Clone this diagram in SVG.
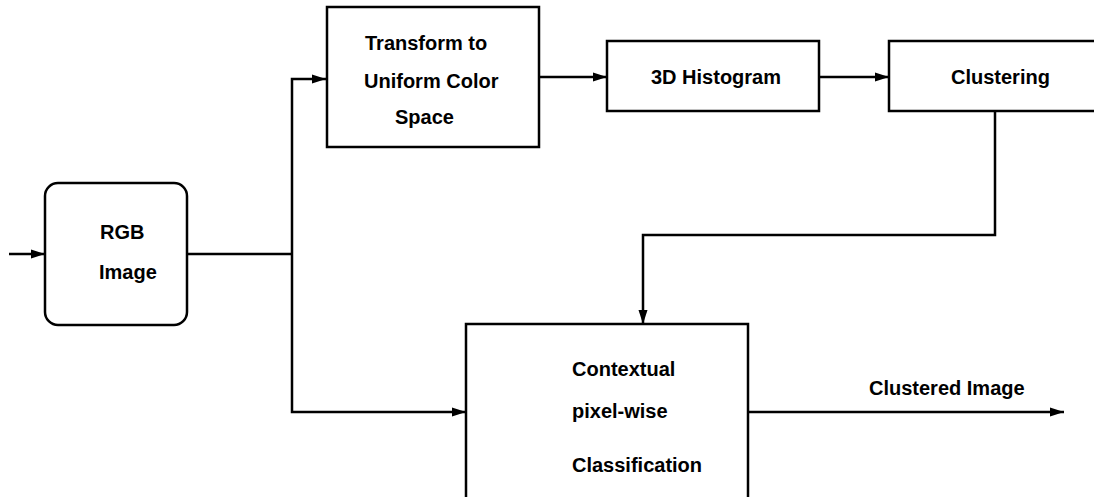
<svg xmlns="http://www.w3.org/2000/svg" width="1094" height="497" viewBox="0 0 1094 497">
<defs>
<marker id="arr" markerUnits="userSpaceOnUse" markerWidth="15" markerHeight="10" refX="14" refY="5" orient="auto">
<path d="M0,0.5 L14,5 L0,9.5 Z" fill="#000"/>
</marker>
<style>
.box{fill:#fff;stroke:#000;stroke-width:2.5}
.ln{fill:none;stroke:#000;stroke-width:2.5}
.t{font-family:"Liberation Sans",Arial,sans-serif;font-weight:bold;font-size:20px;fill:#000}
</style>
</defs>
<rect width="1094" height="497" fill="#fff"/>
<g id="connectors">
<path class="ln" d="M9,254 H45" marker-end="url(#arr)"/>
<path class="ln" d="M187,254 H292"/>
<path class="ln" d="M292,254 V79 H326" marker-end="url(#arr)"/>
<path class="ln" d="M292,254 V412 H466" marker-end="url(#arr)"/>
<path class="ln" d="M539,77 H607" marker-end="url(#arr)"/>
<path class="ln" d="M819,77 H889" marker-end="url(#arr)"/>
<path class="ln" d="M995,111 V235 H643 V324" marker-end="url(#arr)"/>
<path class="ln" d="M748,412 H1064" marker-end="url(#arr)"/>
<text class="t" x="869" y="395">Clustered Image</text>
</g>
<g id="rgb">
<rect class="box" x="45" y="183" width="142" height="142" rx="13"/>
<text class="t" x="100" y="239">RGB</text>
<text class="t" x="99" y="279">Image</text>
</g>
<g id="transform">
<rect class="box" x="327" y="7" width="212" height="140"/>
<text class="t" x="365" y="50">Transform to</text>
<text class="t" x="364" y="88">Uniform Color</text>
<text class="t" x="395" y="124">Space</text>
</g>
<g id="histogram">
<rect class="box" x="607" y="41" width="212" height="70"/>
<text class="t" x="651" y="84">3D Histogram</text>
</g>
<g id="clustering">
<rect class="box" x="889" y="41" width="220" height="70"/>
<text class="t" x="951" y="84">Clustering</text>
</g>
<g id="classification">
<rect class="box" x="466" y="324" width="282" height="200"/>
<text class="t" x="572" y="376">Contextual</text>
<text class="t" x="572" y="418">pixel-wise</text>
<text class="t" x="572" y="472">Classification</text>
</g>
</svg>
